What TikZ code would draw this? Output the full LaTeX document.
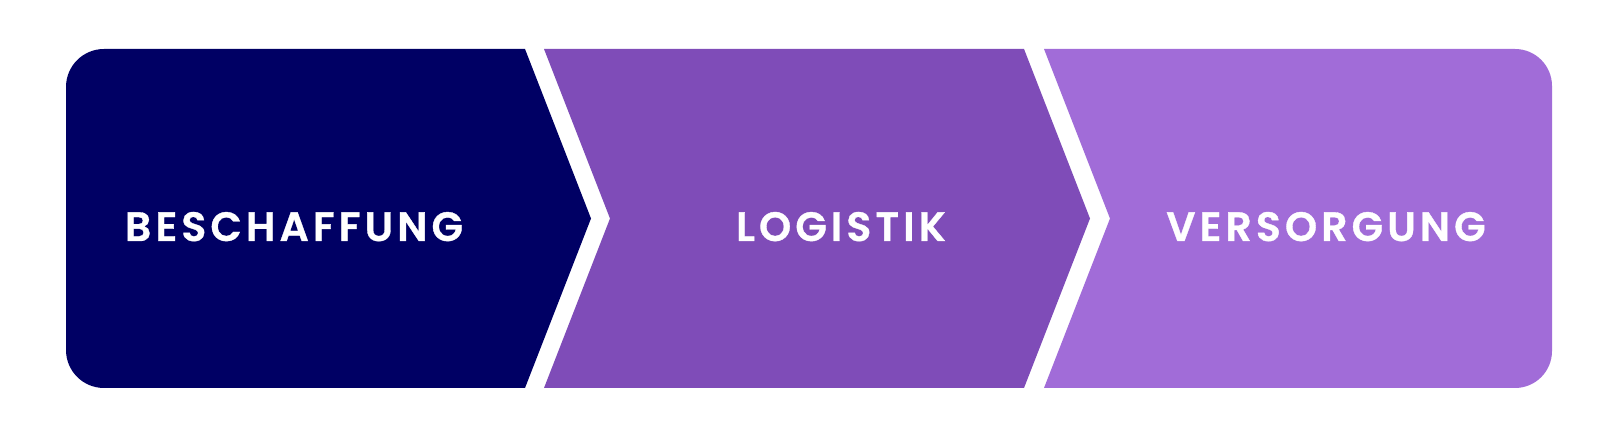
\documentclass[tikz,border=0pt]{standalone}
\usepackage{fontspec}
\newfontfamily\popfont{Poppins SemiBold}[LetterSpace=10,FakeBold=0.8]
\definecolor{navy}{RGB}{0,0,100}
\definecolor{midpurple}{RGB}{127,76,184}
\definecolor{lightpurple}{RGB}{161,108,216}
\begin{document}
\begin{tikzpicture}[x=1pt,y=1pt,
  label/.style={text=white,font=\popfont\fontsize{41}{41}\selectfont,anchor=base,inner sep=0pt}]
\useasboundingbox (0,0) rectangle (1618,435);
\fill[white] (0,0) rectangle (1618,435);
% shape 1
\fill[navy] (525,386) -- (591,216.5) -- (525,47) -- (104,47)
  arc[start angle=270,end angle=180,radius=38pt] -- (66,348)
  arc[start angle=180,end angle=90,radius=38pt] -- cycle;
% shape 2
\fill[midpurple] (544,386) -- (1024,386) -- (1090,216.5) -- (1024,47) -- (544,47) -- (610,216.5) -- cycle;
% shape 3
\fill[lightpurple] (1044,386) -- (1515,386)
  arc[start angle=90,end angle=0,radius=37pt] -- (1552,84)
  arc[start angle=0,end angle=-90,radius=37pt] -- (1044,47) -- (1110,216.5) -- cycle;
\node[label] (b) at (294,194) {BESCHAFFUNG};
\node[label] (l) at (841,194) {LOGISTIK};
\node[label] (v) at (1326,194) {VERSORGUNG};
\end{tikzpicture}
\end{document}
